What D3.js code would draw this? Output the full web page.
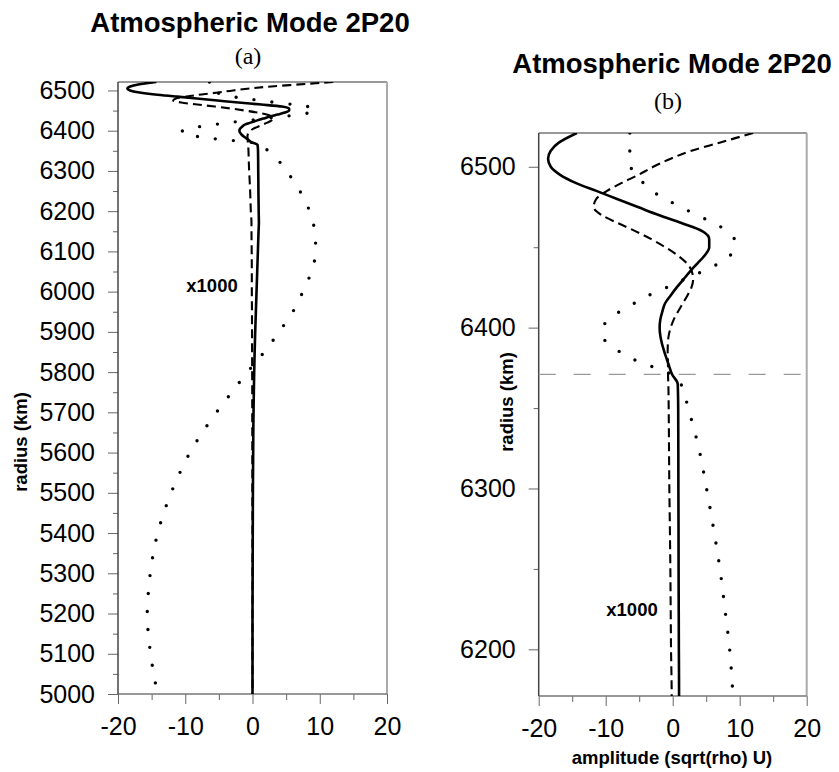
<!DOCTYPE html>
<html>
<head>
<meta charset="utf-8">
<script src="https://cdn.jsdelivr.net/npm/d3@7"></script>
<style>
  body { margin: 0; background: #fff; }
  text { font-family: "Liberation Sans", Arial, Helvetica, sans-serif; fill: #000; }
  .tick text { font-size: 25px; }
  .lab { font-size: 18.5px; font-weight: bold; }
  .title { font-size: 27.5px; font-weight: bold; }
  .sub { font-family: "Liberation Serif", "Times New Roman", serif; font-size: 24px; }
</style>
</head>
<body>
<svg width="839" height="772"></svg>
<script>
// radius grid (km) and the three amplitude profiles (below 6371 km values are x1000)
var radius = [6521, 6515, 6510, 6505, 6500, 6495, 6490, 6485, 6480, 6475, 6470, 6465, 6460, 6455,
  6450, 6445, 6440, 6435, 6430, 6425, 6420, 6415, 6410, 6405, 6400, 6395, 6390, 6385, 6380, 6375,
  6371, 6365, 6350, 6325, 6300, 6275, 6250, 6225, 6200, 6171, 6150, 6100, 6050, 6000, 5950, 5900,
  5850, 5800, 5750, 5700, 5650, 5600, 5550, 5500, 5450, 5400, 5350, 5300, 5250, 5200, 5150, 5100,
  5050, 5000];

var solidAmp = [-14.3, -17.0, -18.2, -18.6, -18.2, -16.8, -14.5, -11.4, -8.3, -5.2, -2.1, 1.3, 4.4, 5.45,
  5.45, 4.8, 3.7, 2.6, 1.6, 0.6, -0.3, -1.15, -1.55, -1.85, -1.95, -1.85, -1.6, -1.25, -0.85, -0.45,
  -0.1, 0.75, 0.82, 0.84, 0.85, 0.87, 0.88, 0.9, 0.92, 0.95, 0.9, 0.8, 0.7, 0.6, 0.5, 0.4,
  0.32, 0.25, 0.2, 0.15, 0.12, 0.1, 0.08, 0.06, 0.05, 0.04, 0.03, 0.02, 0.01, 0.0, 0.0, 0.0,
  0.0, 0.0];

var dashedAmp = [12.0, 7.0, 2.8, -0.3, -2.9, -5.1, -7.6, -9.8, -11.4, -11.8, -10.6, -8.2, -5.6, -3.2,
  -1.1, 0.7, 2.1, 2.85, 3.05, 2.8, 2.2, 1.5, 0.8, 0.15, -0.3, -0.6, -0.72, -0.75, -0.72, -0.7,
  -0.7, -0.65, -0.6, -0.55, -0.5, -0.42, -0.35, -0.3, -0.25, -0.15, -0.15, -0.12, -0.1, -0.1, -0.08, -0.07,
  -0.06, -0.05, -0.04, -0.04, -0.03, -0.03, -0.02, -0.02, -0.01, -0.01, 0.0, 0.0, 0.0, 0.0, 0.0, 0.0,
  0.0, 0.0];

var dottedAmp = [-6.4, -6.4, -6.4, -6.5, -6.3, -5.4, -4.4, -3.1, -1.1, 1.2, 3.6, 6.1, 8.2, 9.2,
  9.3, 8.6, 6.9, 4.5, 1.7, -0.9, -3.6, -5.8, -7.9, -9.6, -10.4, -10.5, -9.6, -7.9, -5.7, -2.6,
  -0.2, 1.2, 2.3, 3.9, 5.05, 6.1, 7.05, 7.8, 8.5, 9.0, 9.3, 9.4, 8.75, 7.5, 6.0, 3.95,
  1.75, -0.75, -3.08, -5.35, -7.45, -9.3, -10.8, -12.1, -13.2, -14.1, -14.75, -15.2, -15.5, -15.65, -15.5, -15.15,
  -14.7, -14.1];

var xTicks = [-20, -10, 0, 10, 20];
var xMinor = [-15, -5, 5, 15];
var yTicksA = d3.range(5000, 6501, 100);
var yMinorA = d3.range(5050, 6501, 100);
var yTicksB = [6200, 6300, 6400, 6500];
var yMinorB = [6250, 6350, 6450];
var surface = 6371;

var svg = d3.select("svg");
svg.append("rect").attr("width", 839).attr("height", 772).attr("fill", "#fff");

var rows = radius.map(function(r, i) {
  return {r: r, solid: solidAmp[i], dashed: dashedAmp[i], dotted: dottedAmp[i]};
});

var styles = [
  {key: "solid", width: 2.6, dash: null, cap: "butt"},
  {key: "dashed", width: 2.1, dash: "9 5", cap: "butt"},
  {key: "dotted", width: 3.4, dash: "0 18", cap: "round"}
];

// plain hyphen for negative labels, like the original
var fmt = function(d) { return d < 0 ? "-" + Math.abs(d) : "" + d; };

function panel(id, xr, yr, domainY, ticks, minor) {
  var x = d3.scaleLinear().domain([-20, 20]).range(xr);
  var y = d3.scaleLinear().domain(domainY).range(yr);
  var g = svg.append("g");

  g.append("clipPath").attr("id", "clip" + id)
    .append("rect").attr("x", xr[0]).attr("y", yr[1])
    .attr("width", xr[1] - xr[0]).attr("height", yr[0] - yr[1]);

  // left axis, major + minor ticks
  g.append("g").attr("transform", "translate(" + xr[0] + ",0)")
    .call(d3.axisLeft(y).tickValues(ticks).tickSize(10).tickSizeOuter(0).tickPadding(13).tickFormat(fmt));
  g.append("g").attr("transform", "translate(" + xr[0] + ",0)")
    .call(d3.axisLeft(y).tickValues(minor).tickSize(5).tickFormat(""));

  // bottom axis
  g.append("g").attr("transform", "translate(0," + yr[0] + ")")
    .call(d3.axisBottom(x).tickValues(xTicks).tickSize(10).tickSizeOuter(0).tickPadding(13).tickFormat(fmt));
  g.append("g").attr("transform", "translate(0," + yr[0] + ")")
    .call(d3.axisBottom(x).tickValues(xMinor).tickSize(6).tickFormat(""));

  g.selectAll(".domain").remove();
  g.selectAll(".tick line").attr("stroke", "#666");
  g.selectAll(".tick text").attr("font-size", null);

  // frame
  g.append("line").attr("x1", xr[0]).attr("x2", xr[1]).attr("y1", yr[1]).attr("y2", yr[1])
    .attr("stroke", "#777").attr("stroke-width", 1.5);
  g.append("line").attr("x1", xr[1]).attr("x2", xr[1]).attr("y1", yr[1]).attr("y2", yr[0])
    .attr("stroke", "#aaa").attr("stroke-width", 2);
  g.append("line").attr("x1", xr[0]).attr("x2", xr[1]).attr("y1", yr[0]).attr("y2", yr[0])
    .attr("stroke", "#777").attr("stroke-width", 1.5);
  g.append("line").attr("x1", xr[0]).attr("x2", xr[0]).attr("y1", yr[1]).attr("y2", yr[0])
    .attr("stroke", "#444").attr("stroke-width", 1.5);

  var line = d3.line().curve(d3.curveMonotoneY)
    .y(function(d) { return y(d.r); });

  var lines = g.append("g").attr("clip-path", "url(#clip" + id + ")");
  styles.forEach(function(s) {
    line.x(function(d) { return x(d[s.key]); });
    lines.append("path")
      .datum(rows)
      .attr("d", line)
      .attr("fill", "none")
      .attr("stroke", "#000")
      .attr("stroke-width", s.width)
      .attr("stroke-linecap", s.cap)
      .attr("stroke-dasharray", s.dash);
  });
  return {x: x, y: y, g: g};
}

var pa = panel("a", [118, 387], [694, 82], [5000, 6521], yTicksA, yMinorA);
var pb = panel("b", [538.7, 806.7], [696, 133], [6171, 6521], yTicksB, yMinorB);

// surface line in panel (b)
pb.g.append("line")
  .attr("x1", pb.x(-20)).attr("x2", pb.x(20))
  .attr("y1", pb.y(surface)).attr("y2", pb.y(surface))
  .attr("stroke", "#999").attr("stroke-width", 1.3).attr("stroke-dasharray", "17 18");

// titles
svg.append("text").attr("class", "title").attr("x", 250).attr("y", 32)
  .attr("text-anchor", "middle").text("Atmospheric Mode 2P20");
svg.append("text").attr("class", "sub").attr("x", 248).attr("y", 64)
  .attr("text-anchor", "middle").text("(a)");
svg.append("text").attr("class", "title").attr("x", 672).attr("y", 73)
  .attr("text-anchor", "middle").text("Atmospheric Mode 2P20");
svg.append("text").attr("class", "sub").attr("x", 668).attr("y", 109)
  .attr("text-anchor", "middle").text("(b)");

// axis titles
svg.append("text").attr("class", "lab").attr("transform", "translate(27,442) rotate(-90)")
  .attr("text-anchor", "middle").text("radius (km)");
svg.append("text").attr("class", "lab").attr("transform", "translate(513,402) rotate(-90)")
  .attr("text-anchor", "middle").text("radius (km)");
svg.append("text").attr("class", "lab").attr("x", 672).attr("y", 764)
  .attr("text-anchor", "middle").text("amplitude (sqrt(rho) U)");

// scale notes
svg.append("text").attr("class", "lab").attr("x", 212).attr("y", 292)
  .attr("text-anchor", "middle").text("x1000");
svg.append("text").attr("class", "lab").attr("x", 632).attr("y", 616)
  .attr("text-anchor", "middle").text("x1000");
</script>
</body>
</html>
